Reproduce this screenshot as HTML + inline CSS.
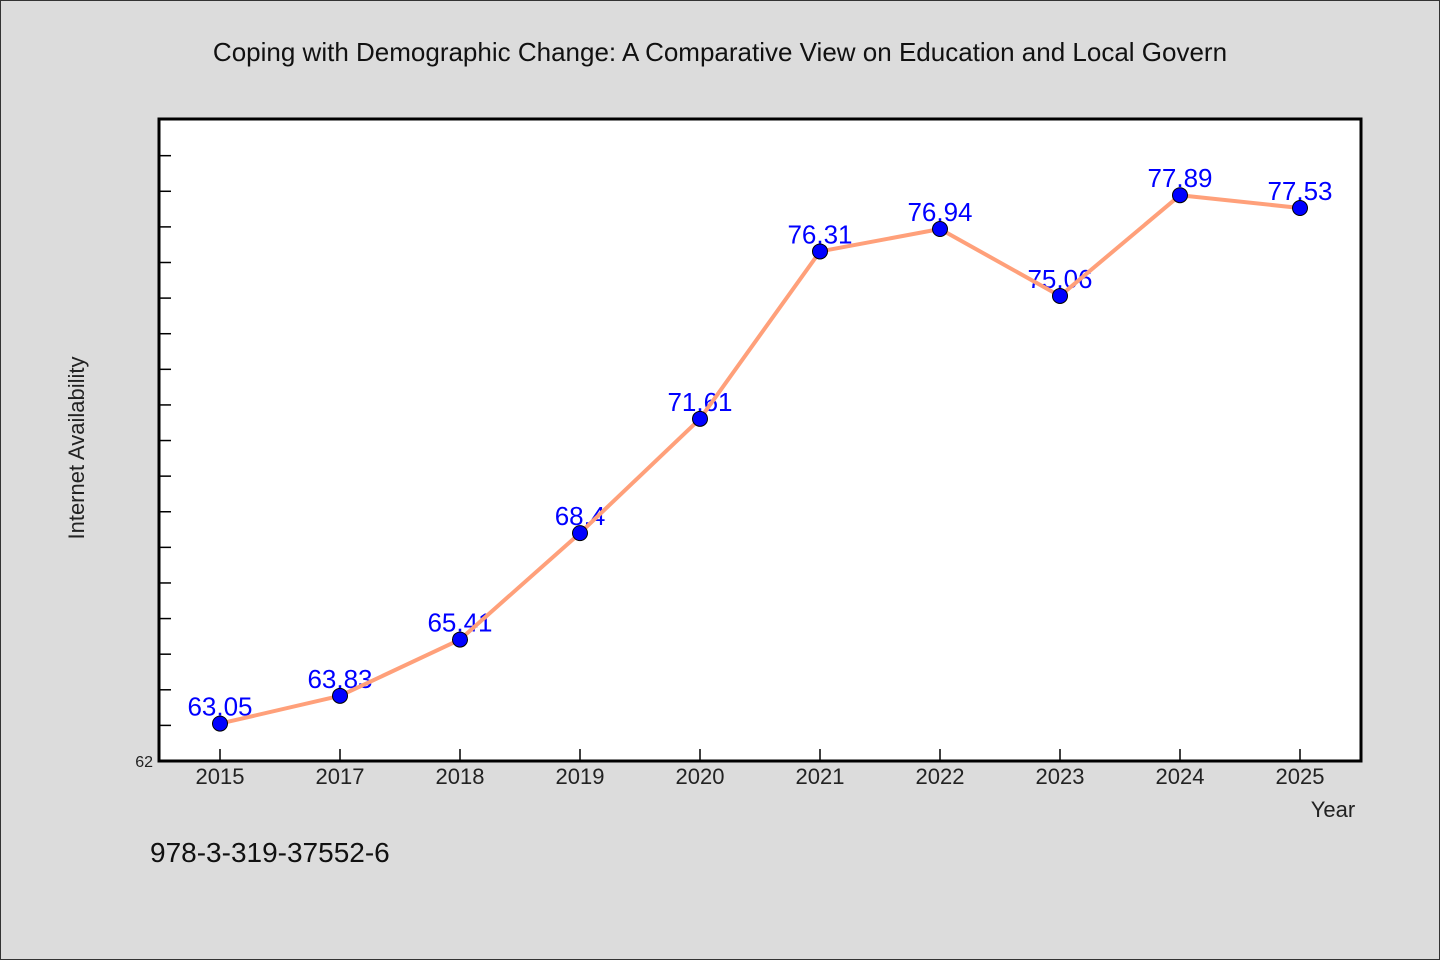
<!DOCTYPE html>
<html><head><meta charset="utf-8"><style>
body{margin:0;background:#dcdcdc;}
svg{display:block;font-family:"WenQuanYi Zen Hei","Liberation Sans",sans-serif;}
</style></head><body>
<svg id="chart" width="1440" height="960" xmlns="http://www.w3.org/2000/svg">
<rect x="0.5" y="0.5" width="1439" height="959" fill="#dcdcdc" stroke="#333"/>
<text x="720" y="61" text-anchor="middle" font-size="26" fill="#111">Coping with Demographic Change: A Comparative View on Education and Local Govern</text>
<rect x="159" y="119" width="1202" height="642" fill="#fff" stroke="#000" stroke-width="3"/>
<text transform="translate(84,448) rotate(-90)" text-anchor="middle" font-size="22" fill="#222">Internet Availability</text>
<text x="1333" y="817" text-anchor="middle" font-size="22" fill="#222">Year</text>
<text x="150" y="862" font-size="28" fill="#111">978-3-319-37552-6</text>
<g id="axes"></g><g id="labels"></g><g id="series"></g>
</svg>
<script>
const categories=["2015","2017","2018","2019","2020","2021","2022","2023","2024","2025"];
const values=[63.05,63.83,65.41,68.4,71.61,76.31,76.94,75.06,77.89,77.53];
const valueLabels=["63.05","63.83","65.41","68.4","71.61","76.31","76.94","75.06","77.89","77.53"];
const yMin=62,yMax=80.03;
const ns="http://www.w3.org/2000/svg";
const X=i=>220+i*120;
const Y=v=>761-(v-yMin)*(642/(yMax-yMin));
function mk(t,a,p){const e=document.createElementNS(ns,t);for(const k in a)e.setAttribute(k,a[k]);p.appendChild(e);return e;}
const axes=document.getElementById('axes'),labels=document.getElementById('labels'),series=document.getElementById('series');
for(let v=yMin+1;v<=79;v++){const t=mk('line',{x1:159,x2:171,y1:Y(v),y2:Y(v),stroke:'#000','stroke-width':1.5},axes);

}
const y0=mk('text',{x:153,y:767,'text-anchor':'end','font-size':16,fill:'#222'},axes);y0.textContent='62';


categories.forEach((c,i)=>{
const t=mk('line',{x1:X(i),x2:X(i),y1:749,y2:761,stroke:'#000','stroke-width':1.5},axes);


const l=mk('text',{x:X(i),y:784,'text-anchor':'middle','font-size':22,fill:'#222'},axes);l.textContent=c;


const d=mk('text',{x:X(i),y:Y(values[i])-8,'text-anchor':'middle','font-size':26,fill:'#0000ff'},labels);d.textContent=valueLabels[i];


});
const pl=mk('polyline',{points:values.map((v,i)=>X(i)+','+Y(v)).join(' '),fill:'none',stroke:'#ffa07a','stroke-width':4,'stroke-linejoin':'round'},series);


values.forEach((v,i)=>{const c=mk('circle',{cx:X(i),cy:Y(v),r:7.5,fill:'#0000ff',stroke:'#000','stroke-width':1},series);

});
</script>
</body></html>
